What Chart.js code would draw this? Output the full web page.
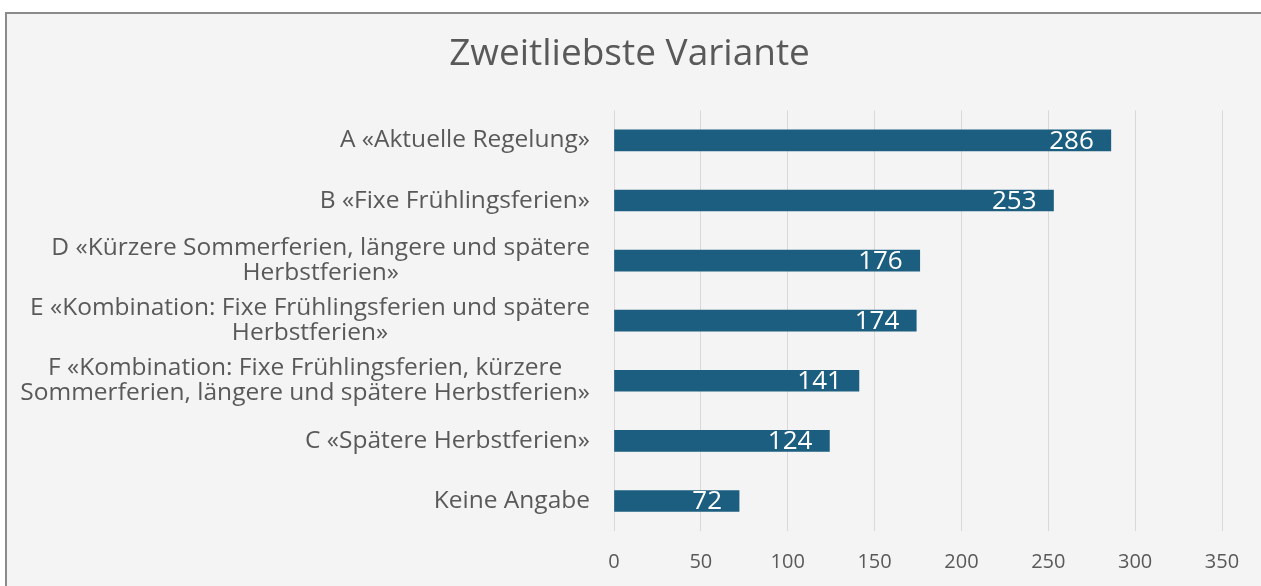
<!DOCTYPE html>
<html>
<head>
<meta charset="utf-8">
<script src="https://cdn.jsdelivr.net/npm/chart.js@4"></script>
<style>
  html, body { margin: 0; padding: 0; background: #ffffff; overflow: hidden; }
  #rahmen {
    position: absolute; left: 5px; top: 12px; width: 1275px; height: 590px;
    border-left: 2px solid #8a8a8a; border-top: 2px solid #8a8a8a; background: #f4f4f4;
  }
</style>
</head>
<body>
<div id="rahmen">
  <div style="position:absolute;left:0;top:0;width:1254px;height:579px;">
    <canvas id="grafiek"></canvas>
  </div>
</div>
<script>
// Daten
const titel = "Zweitliebste Variante";
const varianten = [
  ["A «Aktuelle Regelung»"],
  ["B «Fixe Frühlingsferien»"],
  ["D «Kürzere Sommerferien, längere und spätere", "Herbstferien»"],
  ["E «Kombination: Fixe Frühlingsferien und spätere", "Herbstferien»"],
  ["F «Kombination: Fixe Frühlingsferien, kürzere", "Sommerferien, längere und spätere Herbstferien»"],
  ["C «Spätere Herbstferien»"],
  ["Keine Angabe"]
];
const stimmen = [286, 253, 176, 174, 141, 124, 72];
const achseMax = 350;
const achseSchritt = 50;

const grau = "#595959";
const schrift = "'Open Sans', 'Noto Sans', sans-serif";

// Beschriftungen links (Zeilen zentriert, Block rechtsbündig) und Werte in den Balken
const beschriftung = {
  id: "beschriftung",
  afterDatasetsDraw(chart) {
    const c = chart.ctx;
    const y = chart.scales.y;
    const rechts = chart.chartArea.left - 24;
    c.save();
    c.font = "24.5px " + schrift;
    c.fillStyle = grau;
    c.textBaseline = "middle";
    c.textAlign = "center";
    const zeile = 25;
    varianten.forEach((zeilen, i) => {
      const breite = Math.max(...zeilen.map(z => c.measureText(z).width));
      const mitte = rechts - breite / 2;
      const py = y.getPixelForTick(i);
      const start = py - (zeilen.length - 1) * zeile / 2;
      zeilen.forEach((z, k) => c.fillText(z, mitte, start + k * zeile));
    });

    c.font = "26px " + schrift;
    c.fillStyle = "#ffffff";
    c.textAlign = "right";
    chart.getDatasetMeta(0).data.forEach((bar, i) => {
      c.fillText(String(stimmen[i]), bar.x - 17, bar.y + 1);
    });
    c.restore();
  }
};

new Chart(document.getElementById("grafiek"), {
  type: "bar",
  data: {
    labels: varianten,
    datasets: [{
      data: stimmen,
      backgroundColor: "#1b5e80",
      barThickness: 21
    }]
  },
  options: {
    indexAxis: "y",
    responsive: true,
    maintainAspectRatio: false,
    animation: false,
    layout: { padding: { left: 30, right: 39, top: 0, bottom: 0 } },
    plugins: {
      legend: { display: false },
      tooltip: { enabled: false },
      title: {
        display: true,
        text: titel,
        color: grau,
        font: { family: schrift, size: 37, weight: "normal" },
        padding: { top: 18, bottom: 34 }
      }
    },
    scales: {
      x: {
        min: 0,
        max: achseMax,
        ticks: { stepSize: achseSchritt, color: grau, padding: 19, font: { family: schrift, size: 20 } },
        grid: { color: "#d9d9d9", drawTicks: false },
        border: { display: false }
      },
      y: {
        ticks: { display: false },
        grid: { display: false },
        border: { display: false },
        afterFit(scale) { scale.width = 577; }
      }
    }
  },
  plugins: [beschriftung]
});
</script>
</body>
</html>
